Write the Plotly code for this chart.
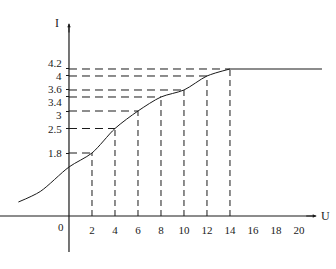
import plotly.graph_objects as go

# Data
U_points = [2, 4, 6, 8, 10, 12, 14]
I_points = [1.8, 2.5, 3, 3.4, 3.6, 4, 4.2]
U_left = [-4.4, -2.5, 0]
I_left = [0.4, 0.7, 1.4]
U_flat = [14, 22]
I_flat = [4.2, 4.2]
x_ticks = [2, 4, 6, 8, 10, 12, 14, 16, 18, 20]
y_ticks = [1.8, 2.5, 3, 3.4, 3.6, 4, 4.2]
y_label_nudge = [0, 0, -4, -5, 1, 0, 6]  # px, to keep close labels from colliding

W, H = 336, 269
x_range = [-6.0, 23.22]
y_range = [-1.514, 6.171]

ink = "#1a1a1a"
fam = "Liberation Serif"
font = dict(family=fam, size=11, color=ink)

fig = go.Figure()

fig.add_trace(go.Scatter(
    x=U_left + U_points, y=I_left + I_points, mode="lines",
    line=dict(color=ink, width=1, shape="spline", smoothing=0.8),
    hoverinfo="skip", showlegend=False))
fig.add_trace(go.Scatter(
    x=U_flat, y=I_flat, mode="lines",
    line=dict(color=ink, width=1.2),
    hoverinfo="skip", showlegend=False))

shapes = []
for u, i in zip(U_points, I_points):
    shapes.append(dict(type="line", xref="x", yref="y", x0=0, y0=i, x1=u, y1=i,
                       line=dict(color=ink, width=1, dash="8px,5px")))
    shapes.append(dict(type="line", xref="x", yref="y", x0=u, y0=0, x1=u, y1=i,
                       line=dict(color=ink, width=1, dash="6px,4px")))
shapes.append(dict(type="line", xref="x", yref="y", x0=x_range[0], y0=0, x1=21.5, y1=0,
                   line=dict(color=ink, width=1.2)))
shapes.append(dict(type="line", xref="x", yref="y", x0=0, y0=-1.03, x1=0, y1=5.49,
                   line=dict(color=ink, width=1.2)))

annotations = [
    dict(x=21.5, y=0, ax=20.5, ay=0, xref="x", yref="y", axref="x", ayref="y",
         showarrow=True, arrowhead=2, arrowsize=0.7, arrowwidth=1, arrowcolor=ink, text=""),
    dict(x=0, y=5.49, ax=0, ay=5.2, xref="x", yref="y", axref="x", ayref="y",
         showarrow=True, arrowhead=2, arrowsize=0.7, arrowwidth=1, arrowcolor=ink, text=""),
    dict(x=-1.04, y=5.51, xref="x", yref="y", text="I", showarrow=False,
         font=dict(family=fam, size=12, color=ink)),
    dict(x=22.3, y=0, xref="x", yref="y", text="U", showarrow=False,
         font=dict(family=fam, size=12, color=ink)),
    dict(x=-0.7, y=-0.3, xref="x", yref="y", text="0", showarrow=False, font=font),
]
for v, dy in zip(y_ticks, y_label_nudge):
    annotations.append(dict(x=0, y=v, xref="x", yref="y", text=str(v), showarrow=False,
                            xanchor="right", yanchor="middle", xshift=-5, yshift=dy,
                            font=font))

x_pos = (0 - y_range[0]) / (y_range[1] - y_range[0])
y_pos = (0 - x_range[0]) / (x_range[1] - x_range[0])

fig.update_layout(
    width=W, height=H, margin=dict(l=0, r=0, t=0, b=0),
    paper_bgcolor="white", plot_bgcolor="white",
    shapes=shapes, annotations=annotations,
    xaxis=dict(range=x_range, anchor="free", position=x_pos, showgrid=False,
               zeroline=False, showline=False, tickvals=x_ticks,
               ticktext=[str(v) for v in x_ticks], ticks="", tickfont=font,
               ticklabelstandoff=6, fixedrange=True),
    yaxis=dict(range=y_range, anchor="free", position=y_pos, showgrid=False,
               zeroline=False, showline=False, tickvals=y_ticks,
               showticklabels=False, ticks="outside", ticklen=3,
               tickcolor=ink, fixedrange=True),
)

fig.write_html("out.html")
